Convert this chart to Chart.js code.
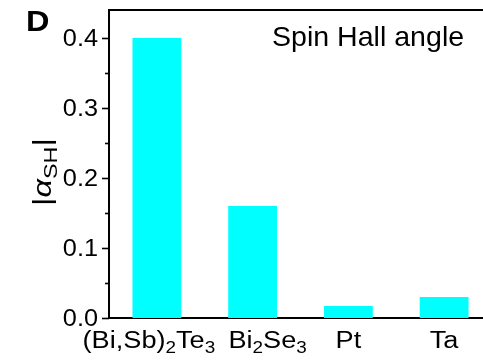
<!DOCTYPE html>
<html>
<head>
<meta charset="utf-8">
<script src="https://cdn.jsdelivr.net/npm/chart.js@4.4.1/dist/chart.umd.min.js"></script>
<style>
  html, body { margin: 0; padding: 0; background: #fff; overflow: hidden; }
  #wrap { width: 483px; height: 361px; overflow: hidden; }
  canvas { display: block; }
</style>
</head>
<body>
<div id="wrap"><canvas id="c" width="500" height="361"></canvas></div>
<script>
// Materials (subscript digits are drawn as lowered, smaller text)
const categories = ['(Bi,Sb)₂Te₃', 'Bi₂Se₃', 'Pt', 'Ta'];
// Magnitude of the spin Hall angle for each material
const spinHallAngle = [0.40, 0.16, 0.017, 0.03];
// Y axis tick values
const yMajorTicks = [0.0, 0.1, 0.2, 0.3, 0.4];
const yMinorTicks = [0.05, 0.15, 0.25, 0.35];
const yTickLabels = ['0.0', '0.1', '0.2', '0.3', '0.4'];

const FONT = "'Liberation Sans', Arial, Helvetica, sans-serif";
const INK = '#000';
// horizontal nudges so the two long formulas do not collide
const labelNudge = [-8, 15, 0, 0];

const SUBS = '₀₁₂₃₄₅₆₇₈₉';
function splitSubs(str) {
  const parts = [];
  for (const ch of str) {
    const i = SUBS.indexOf(ch);
    const sub = i >= 0;
    const c = sub ? String(i) : ch;
    const last = parts[parts.length - 1];
    if (last && last.sub === sub && !last.italic) last.text += c;
    else parts.push({ text: c, sub });
  }
  return parts;
}

// Draws a run of text parts (normal / italic / subscript), horizontally scaled by sx
function drawRun(ctx, parts, x, y, size, align, sx) {
  const fontFor = p => (p.italic ? 'italic ' : '') + (p.bold ? 'bold ' : '') +
    Math.round(p.sub ? size * 0.7 : size) + 'px ' + FONT;
  let w = 0;
  for (const p of parts) { ctx.font = fontFor(p); p.w = ctx.measureText(p.text).width; w += p.w; }
  ctx.save();
  ctx.translate(x, y);
  ctx.scale(sx, 1);
  let cx = align === 'center' ? -w / 2 : align === 'right' ? -w : 0;
  ctx.textAlign = 'left';
  ctx.textBaseline = 'alphabetic';
  ctx.fillStyle = INK;
  for (const p of parts) {
    ctx.font = fontFor(p);
    ctx.fillText(p.text, cx, p.sub ? size * 0.24 : 0);
    cx += p.w;
  }
  ctx.restore();
}

const decorations = {
  id: 'decorations',
  afterDraw(chart) {
    const { ctx, chartArea, scales } = chart;
    const y = scales.y, x = scales.x;
    ctx.save();
    ctx.strokeStyle = INK;
    ctx.lineWidth = 2;
    // top frame line
    ctx.beginPath();
    ctx.moveTo(chartArea.left - 1, chartArea.top);
    ctx.lineTo(chart.width, chartArea.top);
    ctx.stroke();
    // outward y ticks
    ctx.lineWidth = 1.6;
    for (const v of yMajorTicks) {
      const py = Math.round(y.getPixelForValue(v)) + 0.5;
      ctx.beginPath(); ctx.moveTo(chartArea.left - 7, py); ctx.lineTo(chartArea.left, py); ctx.stroke();
    }
    for (const v of yMinorTicks) {
      const py = Math.round(y.getPixelForValue(v)) + 0.5;
      ctx.beginPath(); ctx.moveTo(chartArea.left - 4, py); ctx.lineTo(chartArea.left, py); ctx.stroke();
    }
    ctx.restore();

    // y tick labels
    yMajorTicks.forEach((v, i) => {
      const py = y.getPixelForValue(v);
      drawRun(ctx, [{ text: yTickLabels[i] }], chartArea.left - 11, py + 8, 22.5, 'right', 1.1);
    });

    // category labels with subscripts
    categories.forEach((c, i) => {
      const px = x.getPixelForValue(i) + labelNudge[i];
      drawRun(ctx, splitSubs(c), px, chartArea.bottom + 30, 22.5, 'center', 1.18);
    });

    // y axis title |α_SH|, rotated
    ctx.save();
    ctx.translate(51, 172);
    ctx.rotate(-Math.PI / 2);
    drawRun(ctx, [
      { text: '|' },
      { text: 'α', italic: true },
      { text: 'SH', sub: true },
      { text: '|' }
    ], 0, 0, 25, 'center', 1.3);
    ctx.restore();

    // panel letter and in-plot title
    drawRun(ctx, [{ text: 'D', bold: true }], 26, 31, 29, 'left', 1.12);
    drawRun(ctx, [{ text: 'Spin Hall angle' }], 272, 46, 28, 'left', 1.02);
  }
};

new Chart(document.getElementById('c'), {
  type: 'bar',
  data: {
    labels: categories,
    datasets: [{
      data: spinHallAngle,
      backgroundColor: '#00FFFF',
      borderWidth: 0,
      categoryPercentage: 1.0,
      barPercentage: 0.51
    }]
  },
  options: {
    responsive: false,
    animation: false,
    events: [],
    layout: { padding: { left: 0, right: 8, top: 10, bottom: 0 } },
    plugins: { legend: { display: false }, tooltip: { enabled: false } },
    scales: {
      x: {
        type: 'category',
        grid: { display: false, drawTicks: false },
        border: { display: true, color: INK, width: 2 },
        ticks: { display: false },
        afterFit: s => { s.height = 43; }
      },
      y: {
        min: 0,
        max: 0.44,
        grid: { display: false, drawTicks: false },
        border: { display: true, color: INK, width: 2 },
        ticks: { display: false },
        afterFit: s => { s.width = 109; }
      }
    }
  },
  plugins: [decorations]
});
</script>
</body>
</html>
